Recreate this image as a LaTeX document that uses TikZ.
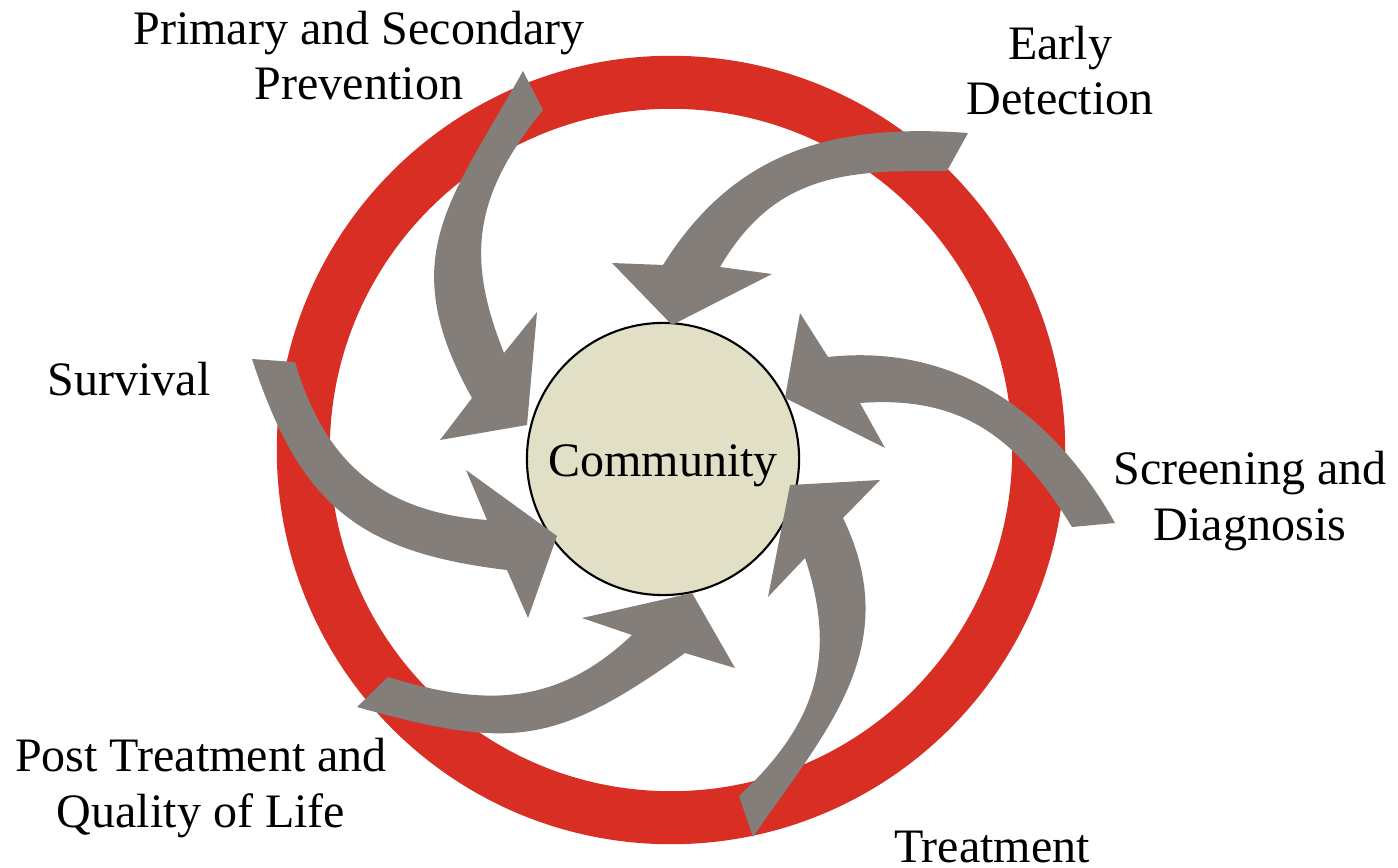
\documentclass[tikz,border=0pt]{standalone}
\usepackage{fontspec}
\setmainfont{Liberation Serif}
\definecolor{ringred}{RGB}{217,46,36}
\definecolor{arrowgray}{RGB}{131,126,122}
\definecolor{commfill}{RGB}{225,224,199}
\tikzset{
  lbl/.style={font=\fontsize{13.66pt}{15.9pt}\selectfont, align=center, anchor=base, inner sep=0pt},
  blockarrow/.style={fill=arrowgray, draw=none},
}
\begin{document}
\begin{tikzpicture}[x=0.01cm, y=-0.01cm]
\useasboundingbox (0,0) rectangle (1398,867);
% red ring
\draw[ringred, line width=0.53cm] (671,450) circle[radius=3.675cm];
% community
\node[circle, draw=black, line width=0.6pt, fill=commfill, minimum size=2.72cm, inner sep=0pt] (comm) at (663,459) {};
\node[lbl] (commtxt) at (663,476) {Community};
% arrow 1: Primary and Secondary Prevention
\fill[blockarrow] (523,71) .. controls (451,200) and (393,257) .. (472,398)
  -- (440,440) -- (527,425) -- (537,312) -- (504,353)
  .. controls (466,258) and (473,196) .. (543,110) -- cycle;
% arrow 2: Early Detection
\fill[blockarrow] (968,133) .. controls (835.7,123.3) and (735.2,149.4) .. (663,265)
  -- (612,263) -- (672,325) -- (772,274) -- (720,267)
  .. controls (774,175) and (843.5,169.7) .. (947,171) -- cycle;
% arrow 3: Screening and Diagnosis
\fill[blockarrow] (1115,523) .. controls (1054.3,414.6) and (956.7,342.8) .. (828,357)
  -- (800,313) -- (785,398) -- (885,448) -- (860,403)
  .. controls (966.1,395) and (1019.3,441.6) .. (1072,527) -- cycle;
% arrow 4: Treatment
\fill[blockarrow] (739,796) .. controls (815,725.5) and (838.2,657.8) .. (805,558)
  -- (768,597) -- (790,485) -- (880,480) -- (843,518)
  .. controls (906.5,648.8) and (822.8,734.2) .. (753,837) -- cycle;
% arrow 5: Post Treatment and Quality of Life
\fill[blockarrow] (388,677) .. controls (482.8,706.2) and (555.9,707.1) .. (632,635)
  -- (582,618) -- (692,593) -- (735,668) -- (685,653)
  .. controls (554,746) and (511.9,749.9) .. (357,707) -- cycle;
% arrow 6: Survival
\fill[blockarrow] (252,359) .. controls (299.5,503.6) and (356.8,552.1) .. (507,570)
  -- (528,618) -- (557,536) -- (466,470) -- (487,520)
  .. controls (380.6,512) and (324.1,460.7) .. (295,362) -- cycle;
% labels
\node[lbl] (prev) at (359,100) {Primary and Secondary\\Prevention};
\node[lbl] (early) at (1060,115) {Early\\Detection};
\node[lbl] (screen) at (1250,540) {Screening and\\Diagnosis};
\node[lbl] (treat) at (992,862) {Treatment};
\node[lbl] (post) at (201,827) {Post Treatment and\\Quality of Life};
\node[lbl] (surv) at (129,395) {Survival};
\end{tikzpicture}
\end{document}
